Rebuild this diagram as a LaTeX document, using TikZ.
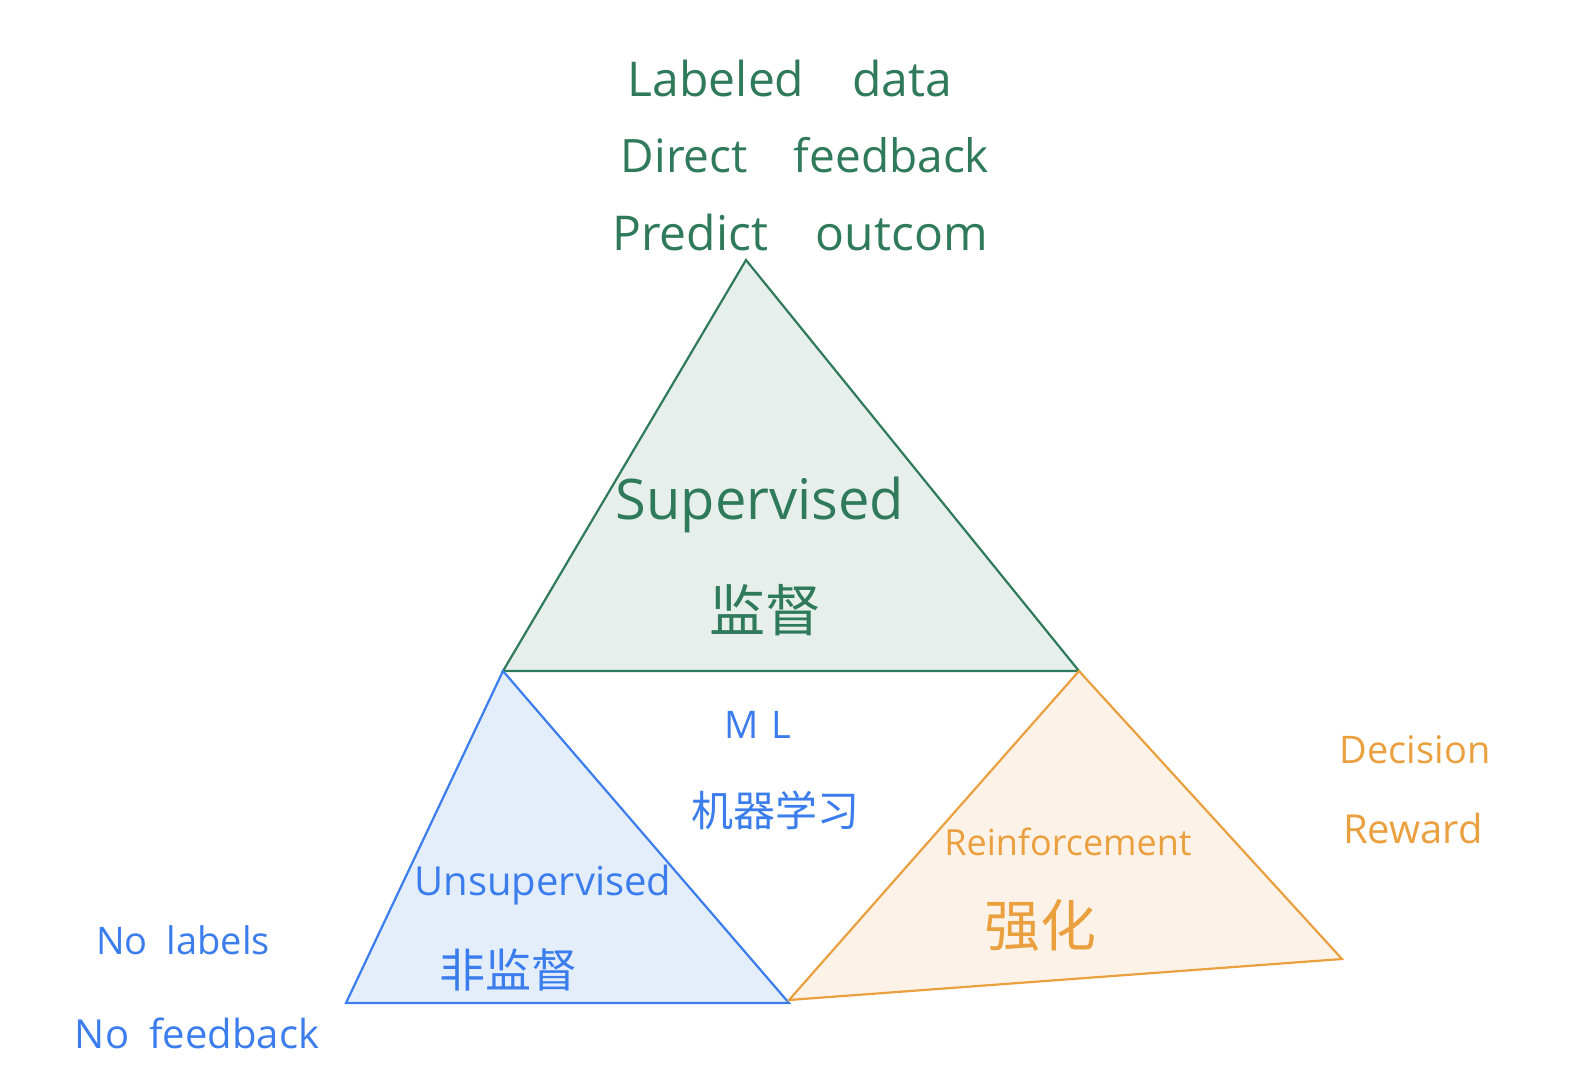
\documentclass[tikz,border=0pt]{standalone}
\usepackage{fontspec}
\setmainfont{Open Sans}
\newfontfamily\cjk{Noto Sans CJK SC}
\definecolor{gr}{HTML}{2F7A5A}
\definecolor{grf}{HTML}{E6EFEC}
\definecolor{bl}{HTML}{3B7DED}
\definecolor{blf}{HTML}{E4EEFB}
\definecolor{or}{HTML}{EBA040}
\definecolor{orf}{HTML}{FCF2E7}
\begin{document}
\begin{tikzpicture}[x=0.5pt,y=-0.5pt,
  tri/.style={line width=1.1pt,line join=miter},
  gt/.style={text=gr,inner sep=0pt},
  bt/.style={text=bl,inner sep=0pt},
  ot/.style={text=or,inner sep=0pt}]
\useasboundingbox (0,0) rectangle (1570,1092);
% vertices
\coordinate (gA) at (746,260);
\coordinate (gL) at (503,671);
\coordinate (gR) at (1079,671);
\coordinate (bL) at (346,1003);
\coordinate (bR) at (789,1003);
\coordinate (oL) at (789,1000);
\coordinate (oR) at (1342,959);
% triangles
\filldraw[tri,draw=gr,fill=grf] (gA) -- (gR) -- (gL) -- cycle;
\filldraw[tri,draw=bl,fill=blf] (gL) -- (bR) -- (bL) -- cycle;
\filldraw[tri,draw=or,fill=orf] (gR) -- (oR) -- (oL) -- cycle;
% green texts
\node[gt,font=\fontsize{24}{28}\selectfont] (t1) at (790,78) {Labeled\quad data};
\node[gt,font=\fontsize{23}{28}\selectfont] (t2) at (805,155) {Direct\quad feedback};
\node[gt,font=\fontsize{24}{28}\selectfont] (t3) at (800,232) {Predict\quad outcom};
\node[gt,font=\fontsize{28}{32}\selectfont] (sup) at (760,505) {Supervised};
\node[gt,font=\cjk\fontsize{28}{32}\selectfont] (jd) at (765,610) {监督};
% blue texts
\node[bt,font=\fontsize{19}{22}\selectfont] (ml) at (758,725) {M\,\,L};
\node[bt,font=\cjk\fontsize{21}{24}\selectfont] (jq) at (775,810) {机器学习};
\node[bt,font=\fontsize{20}{24}\selectfont] (uns) at (543,885) {Unsupervised};
\node[bt,font=\cjk\fontsize{23}{26}\selectfont] (fjd) at (508,970) {非监督};
\node[bt,font=\fontsize{19}{22}\selectfont] (nl) at (183,940) {No\enspace labels};
\node[bt,font=\fontsize{20}{24}\selectfont] (nf) at (197,1033) {No\enspace feedback};
% orange texts
\node[ot,font=\fontsize{18}{22}\selectfont] (rf) at (1068,842) {Reinforcement};
\node[ot,font=\cjk\fontsize{28}{32}\selectfont] (qh) at (1040,925) {强化};
\node[ot,font=\fontsize{19}{22}\selectfont] (dc) at (1415,750) {Decision};
\node[ot,font=\fontsize{20}{22}\selectfont] (rw) at (1413,828) {Reward};
\end{tikzpicture}
\end{document}
